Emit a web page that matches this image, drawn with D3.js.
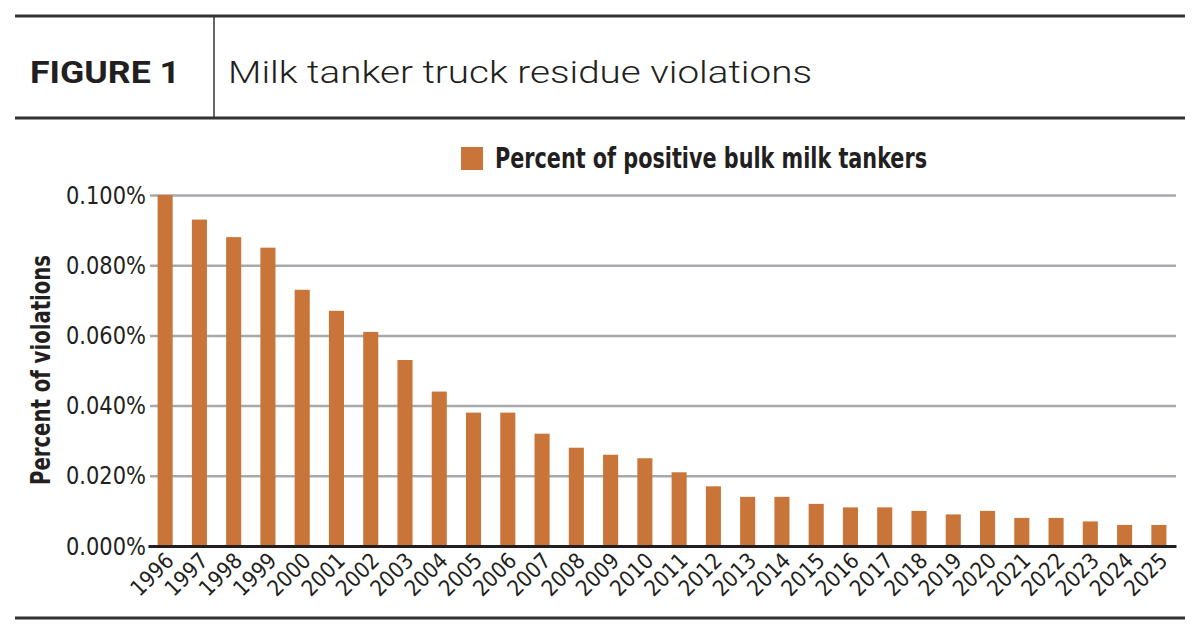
<!DOCTYPE html>
<html>
<head>
<meta charset="utf-8">
<script src="https://cdn.jsdelivr.net/npm/d3@7"></script>
<style>
  body { margin: 0; background: #fff; }
  svg { display: block; }
  .narrow { font-family: "Liberation Sans Narrow", "DejaVu Sans Condensed", "Arial Narrow", sans-serif; font-stretch: condensed; }
</style>
</head>
<body>
<svg></svg>
<script>
const width = 1200;
const height = 636;

// data
const years = ["1996", "1997", "1998", "1999", "2000", "2001", "2002", "2003", "2004", "2005",
  "2006", "2007", "2008", "2009", "2010", "2011", "2012", "2013", "2014", "2015",
  "2016", "2017", "2018", "2019", "2020", "2021", "2022", "2023", "2024", "2025"];
const positivePct = [0.100, 0.093, 0.088, 0.085, 0.073, 0.067, 0.061, 0.053, 0.044, 0.038,
  0.038, 0.032, 0.028, 0.026, 0.025, 0.021, 0.017, 0.014, 0.014, 0.012,
  0.011, 0.011, 0.010, 0.009, 0.010, 0.008, 0.008, 0.007, 0.006, 0.006];
const yTicks = [0, 0.02, 0.04, 0.06, 0.08, 0.1];
const seriesName = "Percent of positive bulk milk tankers";

const barColor = "#c97539";
const ink = "#231f20";

const svg = d3.select("svg")
  .attr("width", width)
  .attr("height", height);

// header frame
svg.append("line")
  .attr("x1", 15).attr("x2", 1185).attr("y1", 16).attr("y2", 16)
  .attr("stroke", "#333").attr("stroke-width", 3);
svg.append("line")
  .attr("x1", 15).attr("x2", 1185).attr("y1", 118).attr("y2", 118)
  .attr("stroke", "#333").attr("stroke-width", 3);
svg.append("line")
  .attr("x1", 214).attr("x2", 214).attr("y1", 16).attr("y2", 118)
  .attr("stroke", "#333").attr("stroke-width", 1.5);

svg.append("text")
  .attr("x", 30).attr("y", 83)
  .attr("font-family", "Roboto, sans-serif")
  .attr("font-weight", 700)
  .attr("font-size", 31)
  .attr("fill", ink)
  .attr("textLength", 150)
  .attr("lengthAdjust", "spacingAndGlyphs")
  .text("FIGURE 1");

svg.append("text")
  .attr("x", 228).attr("y", 83)
  .attr("font-family", "Roboto, sans-serif")
  .attr("font-weight", 300)
  .attr("font-size", 31)
  .attr("fill", ink)
  .attr("textLength", 584)
  .attr("lengthAdjust", "spacingAndGlyphs")
  .text("Milk tanker truck residue violations");

// bottom rule
svg.append("line")
  .attr("x1", 15).attr("x2", 1185).attr("y1", 618).attr("y2", 618)
  .attr("stroke", "#333").attr("stroke-width", 3);

// scales
const x = d3.scaleBand()
  .domain(years)
  .range([148, 1176])
  .paddingInner(0.56)
  .paddingOuter(0.28);

const y = d3.scaleLinear()
  .domain([0, 0.1])
  .range([546, 195]);

// gridlines
svg.append("g")
  .attr("transform", "translate(148,0)")
  .call(d3.axisLeft(y).tickValues(yTicks.slice(1)).tickSize(-(1176 - 150)).tickFormat(""))
  .call(g => g.select(".domain").remove())
  .call(g => g.selectAll(".tick line")
    .attr("stroke", "#a7a9ac")
    .attr("stroke-width", 2.5)
    .attr("transform", "translate(2,0)"));

// y axis labels
svg.append("g")
  .attr("transform", "translate(146,0)")
  .call(d3.axisLeft(y).tickValues(yTicks).tickSize(0).tickPadding(0).tickFormat(d => d3.format(".3f")(d) + "%"))
  .call(g => g.select(".domain").remove())
  .call(g => g.selectAll("text")
    .attr("class", "narrow")
    .attr("font-size", 25)
    .attr("fill", ink)
    .attr("textLength", 80)
    .attr("lengthAdjust", "spacingAndGlyphs"));

// bars
svg.append("g")
  .selectAll("rect")
  .data(years)
  .join("rect")
    .attr("x", d => x(d))
    .attr("width", x.bandwidth())
    .attr("y", (d, i) => y(positivePct[i]))
    .attr("height", (d, i) => y(0) - y(positivePct[i]))
    .attr("fill", barColor);

// x axis
svg.append("g")
  .attr("transform", `translate(0, ${y(0)})`)
  .call(d3.axisBottom(x).tickSize(0).tickPadding(0))
  .call(g => g.select(".domain")
    .attr("stroke", ink)
    .attr("stroke-width", 3))
  .call(g => g.selectAll("text")
    .attr("class", "narrow")
    .attr("font-size", 22)
    .attr("fill", ink)
    .attr("text-anchor", "end")
    .attr("dy", null)
    .attr("y", 0)
    .attr("transform", "translate(10,16) rotate(-45)"));

// y axis title
svg.append("text")
  .attr("class", "narrow")
  .attr("transform", "translate(50,370) rotate(-90)")
  .attr("text-anchor", "middle")
  .attr("font-size", 26)
  .attr("font-weight", "bold")
  .attr("fill", ink)
  .attr("textLength", 230)
  .attr("lengthAdjust", "spacingAndGlyphs")
  .text("Percent of violations");

// legend
const legend = svg.append("g").attr("transform", "translate(461,147)");
legend.append("rect")
  .attr("width", 22).attr("height", 23)
  .attr("fill", barColor);
legend.append("text")
  .attr("class", "narrow")
  .attr("x", 34).attr("y", 21)
  .attr("font-size", 28)
  .attr("font-weight", "bold")
  .attr("fill", ink)
  .attr("textLength", 432)
  .attr("lengthAdjust", "spacingAndGlyphs")
  .text(seriesName);
</script>
</body>
</html>
